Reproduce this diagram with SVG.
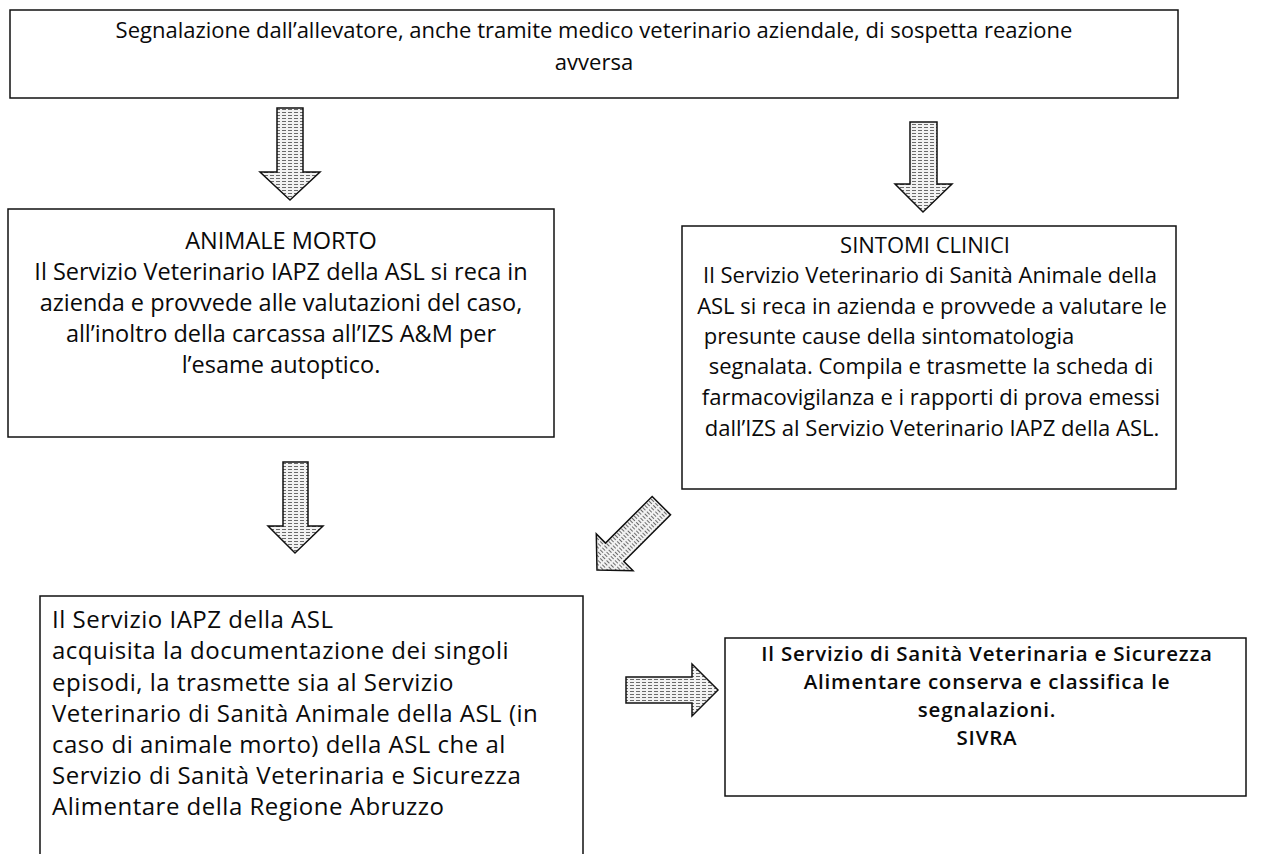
<svg xmlns="http://www.w3.org/2000/svg" width="1267" height="854" viewBox="0 0 1267 854">
<defs>
<pattern id="hatch" width="6" height="3" patternUnits="userSpaceOnUse"><rect width="6" height="3" fill="#f2f2f2"/><line x1="0" y1="1.5" x2="6" y2="1.5" stroke="#6a6a6a" stroke-width="1" stroke-dasharray="4 2"/></pattern>
</defs>
<style>
.box{fill:#fff;stroke:#111;stroke-width:1.5}
.t{font-family:"Open Sans",Lato,sans-serif;font-size:22px;fill:#0a0a0a}
.l{font-size:23.5px}
.b{font-size:24px;letter-spacing:0.5px}
.s{font-size:20.5px;font-weight:600;letter-spacing:0.8px}
.c{text-anchor:middle}
.arrow{fill:url(#hatch);stroke:#111;stroke-width:1.5;stroke-linejoin:miter}
</style>
<rect width="1267" height="854" fill="#fff"/>
<g id="n-segnalazione">
<rect class="box" x="10" y="10" width="1168" height="88"/>
<text class="t c" x="594" y="38">Segnalazione dall’allevatore, anche tramite medico veterinario aziendale, di sospetta reazione</text>
<text class="t c" x="594" y="70">avversa</text>
</g>
<g id="n-animale-morto">
<rect class="box" x="8" y="209" width="546" height="228"/>
<text class="t l c" x="281" y="249">ANIMALE MORTO</text>
<text class="t l c" x="281" y="280">Il Servizio Veterinario IAPZ della ASL si reca in</text>
<text class="t l c" x="281" y="311">azienda e provvede alle valutazioni del caso,</text>
<text class="t l c" x="281" y="342">all’inoltro della carcassa all’IZS A&amp;M per</text>
<text class="t l c" x="281" y="373">l’esame autoptico.</text>
</g>
<g id="n-sintomi-clinici">
<rect class="box" x="682" y="226" width="494" height="263"/>
<text class="t c" x="925" y="253">SINTOMI CLINICI</text>
<text class="t c" x="930" y="283">Il Servizio Veterinario di Sanità Animale della</text>
<text class="t c" x="932" y="314">ASL si reca in azienda e provvede a valutare le</text>
<text class="t c" x="889" y="344">presunte cause della sintomatologia</text>
<text class="t c" x="931" y="374">segnalata. Compila e trasmette la scheda di</text>
<text class="t c" x="931" y="405">farmacovigilanza e i rapporti di prova emessi</text>
<text class="t c" x="932" y="436">dall’IZS al Servizio Veterinario IAPZ della ASL.</text>
</g>
<g id="n-servizio-iapz">
<path class="box" d="M40,860 V596 H583 V860"/>
<text class="t b" x="52" y="628">Il Servizio IAPZ della ASL</text>
<text class="t b" x="52" y="659">acquisita la documentazione dei singoli</text>
<text class="t b" x="52" y="691">episodi, la trasmette sia al Servizio</text>
<text class="t b" x="52" y="722">Veterinario di Sanità  Animale della ASL (in</text>
<text class="t b" x="52" y="753">caso di animale morto) della ASL che al</text>
<text class="t b" x="52" y="784">Servizio di Sanità Veterinaria e Sicurezza</text>
<text class="t b" x="52" y="815">Alimentare della Regione Abruzzo</text>
</g>
<g id="n-sivra">
<rect class="box" x="725" y="638" width="521" height="158"/>
<text class="t s c" x="987" y="661">Il Servizio di Sanità Veterinaria e Sicurezza</text>
<text class="t s c" x="987" y="689">Alimentare conserva e classifica le</text>
<text class="t s c" x="987" y="717">segnalazioni.</text>
<text class="t s c" x="987" y="745">SIVRA</text>
</g>
<g id="connectors">
<path class="arrow" d="M277,108 H303 V172 H320 L290,200 L260,172 H277 Z"/>
<path class="arrow" d="M910,122 H937 V184 H952 L923,212 L895,184 H910 Z"/>
<path class="arrow" d="M283,462 H308 V526 H323 L295,553 L268,526 H283 Z"/>
<path class="arrow" transform="translate(597,570) rotate(45)" d="M-13,-91 H13 V-25 H26 L0,0 L-26,-25 H-13 Z"/>
<path class="arrow" d="M626,677 H692 V664 L718,690 L692,716 V703 H626 Z"/>
</g>
</svg>
